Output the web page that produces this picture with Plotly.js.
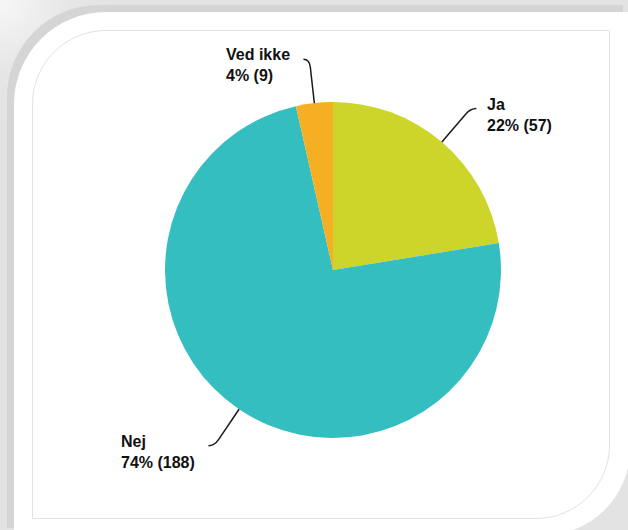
<!DOCTYPE html>
<html>
<head>
<meta charset="utf-8">
<script src="https://cdn.plot.ly/plotly-3.0.1.min.js"></script>
<style>
  html, body { margin: 0; padding: 0; }
  #wrap { position: relative; width: 628px; height: 530px; overflow: hidden;
          background: radial-gradient(circle at 0 0, #f7f7f7 0px, #e6e6e6 70px, #e3e3e3 120px); }
  #card { position: absolute; left: 14px; top: 12px; width: 616px; height: 523px; background: #fff;
          border-radius: 92px 0 86px 0; box-shadow: -7px -7px 0 0 #d5d5d5; }
  #inner { position: absolute; left: 32px; top: 30px; width: 576px; height: 487px; background: #fff;
           border: 1px solid #e2e2e2; border-radius: 74px 0 74px 0; }
  #chart { position: absolute; left: 0; top: 0; width: 628px; height: 530px; }
</style>
</head>
<body>
<div id="wrap">
  <div id="card"></div>
  <div id="inner"></div>
  <div id="chart"></div>
</div>
<script>
const labels = ['Ja', 'Nej', 'Ved ikke'];
const values = [57, 188, 9];
const sliceColors = ['#cdd42a', '#35bec0', '#f6ae22'];

const W = 628, H = 530;
const domX = [0.2627, 0.7978];
const domY = [0.1736, 0.8075];

const total = values.reduce((a, b) => a + b, 0);
const cx = (domX[0] + domX[1]) / 2 * W;
const cy = (1 - (domY[0] + domY[1]) / 2) * H;
const r = Math.min((domX[1] - domX[0]) * W, (domY[1] - domY[0]) * H) / 2;

const px = x => x / W;
const py = y => 1 - y / H;

const shapes = [];
const annotations = [];
let cum = 0;
values.forEach((v, i) => {
  const mid = (cum + v / 2) / total * 2 * Math.PI;
  cum += v;
  const ux = Math.sin(mid), uy = -Math.cos(mid);
  const side = ux >= 0 ? 1 : -1;
  const ax = cx + r * ux, ay = cy + r * uy;
  const L = 44;
  const p1x = ax + ux * (L - 8), p1y = ay + uy * (L - 8);
  const ex = ax + ux * L, ey = ay + uy * L;
  const endx = ex + side * 6, endy = ey;
  shapes.push({
    type: 'path', xref: 'paper', yref: 'paper',
    path: `M ${px(ax)},${py(ay)} L ${px(p1x)},${py(p1y)} Q ${px(ex)},${py(ey)} ${px(endx)},${py(endy)}`,
    line: { color: '#1a1a1a', width: 1.5 }
  });
  const pct = Math.round(v / total * 100);
  annotations.push({
    xref: 'paper', yref: 'paper',
    x: px(side > 0 ? endx + 9 : endx - 11),
    y: py(endy - 15),
    xanchor: side > 0 ? 'left' : 'right',
    yanchor: 'top',
    align: 'left',
    showarrow: false,
    text: `<b>${labels[i]}</b><br><b>${pct}% (${v})</b>`,
    font: { family: 'Liberation Sans, Arial, sans-serif', size: 16, color: '#111' }
  });
});

const data = [{
  type: 'pie',
  labels: labels,
  values: values,
  sort: false,
  direction: 'clockwise',
  rotation: 0,
  textinfo: 'none',
  hoverinfo: 'label+percent+value',
  marker: { colors: sliceColors, line: { width: 0 } },
  domain: { x: domX, y: domY },
  showlegend: false
}];

const layout = {
  width: W, height: H,
  margin: { l: 0, r: 0, t: 0, b: 0 },
  paper_bgcolor: 'rgba(0,0,0,0)',
  plot_bgcolor: 'rgba(0,0,0,0)',
  showlegend: false,
  shapes: shapes,
  annotations: annotations
};

Plotly.newPlot('chart', data, layout, { displayModeBar: false, staticPlot: true });
</script>
</body>
</html>
